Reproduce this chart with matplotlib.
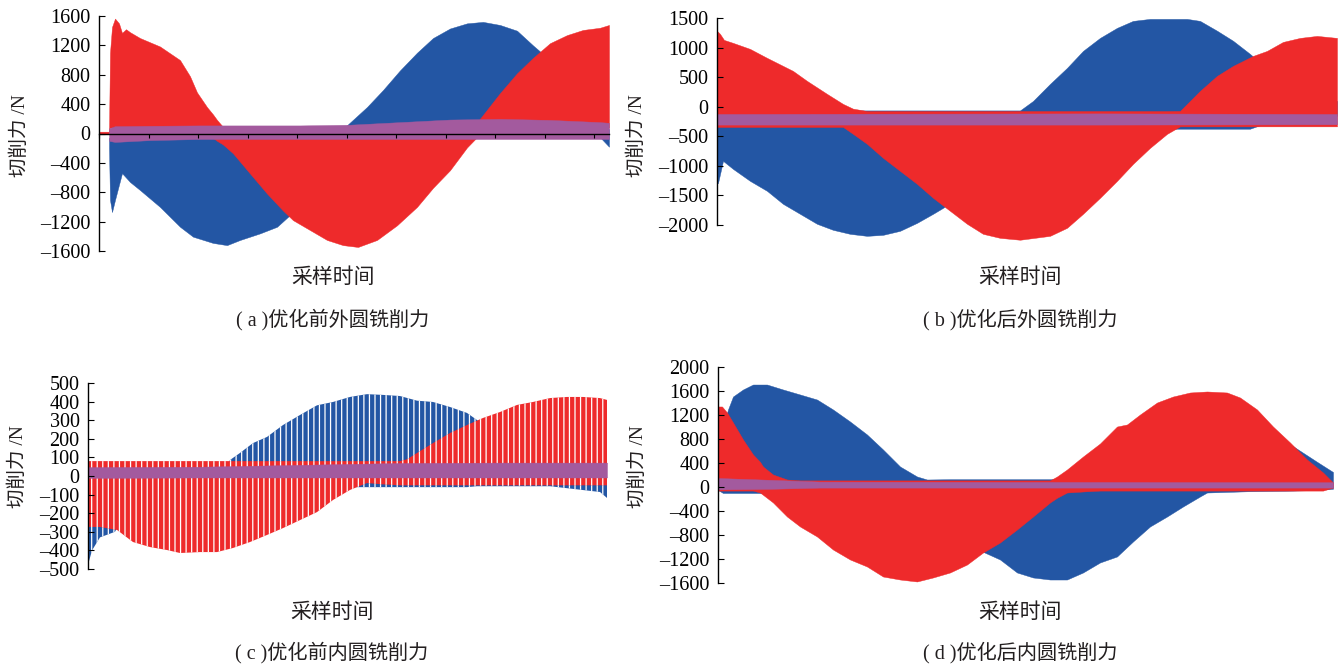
import numpy as np
import matplotlib
matplotlib.use("Agg")
import matplotlib.pyplot as plt
from matplotlib.ticker import FuncFormatter

# ---------------- data (sampling-time index, force in N) ----------------
# Panel (a) 优化前外圆铣削力
a_blue_x = [10, 11, 13, 16, 23, 31, 41, 61, 81, 94, 114, 128, 141, 161, 178, 191, 211, 231,
            247, 268, 284, 301, 318, 334, 351, 368, 384, 401, 418, 434, 451, 468, 484, 501, 510]
a_blue_top = [-60] * 18 + [100, 361, 592, 860, 1100, 1300, 1430, 1500, 1520, 1478,
                           1400, 1200, 1000, 700, 400, 100, 60]
a_blue_bot = [-200, -905, -1070, -905, -540, -660, -770, -1000, -1270, -1405, -1490, -1520,
              -1450, -1360, -1270, -1110, -850, -450, 60] + [60] * 14 + [-50, -180]
a_red_x = [0, 10, 11, 13, 16, 20, 23, 27, 31, 41, 61, 81, 91, 98, 108, 114, 118, 124, 134, 151,
           168, 184, 194, 211, 228, 244, 259, 278, 298, 318, 334, 351, 368, 378, 401, 418, 434,
           451, 468, 484, 501, 510]
a_red_top = [25, 25, 1100, 1450, 1565, 1500, 1370, 1420, 1380, 1300, 1185, 1000, 780, 560, 360,
             260, 185, 90] + [-60] * 15 + [150, 550, 820, 1030, 1230, 1340, 1410, 1440, 1478]
a_red_bot = [0, 0] + [80] * 13 + [-60, -100, -150, -270, -545, -818, -1050, -1180, -1315, -1450,
                                  -1520, -1545, -1450, -1250, -1000, -740, -500, -190, -50] + [80] * 8
a_pur_x = [10, 16, 51, 101, 151, 201, 251, 301, 351, 401, 451, 501, 510]
a_pur_top = [70, 100, 105, 110, 110, 110, 120, 155, 190, 200, 185, 155, 145]
a_pur_bot = [-100, -115, -90, -75, -75, -75, -75, -75, -75, -75, -75, -75, -75]

# Panel (b) 优化后外圆铣削力
b_blue_x = [0, 1, 6, 16, 33, 50, 66, 83, 100, 116, 133, 150, 166, 183, 200, 216, 226, 243, 273,
            303, 316, 333, 350, 366, 383, 400, 416, 433, 470, 483, 500, 516, 533, 553, 583, 620]
b_blue_top = [-60] * 20 + [100, 389, 660, 948, 1168, 1338, 1456, 1490, 1490, 1456, 1290, 1120,
                           897, 600, 300, 100]
b_blue_bot = [-1300, -1290, -914, -1050, -1253, -1422, -1642, -1811, -1980, -2082, -2150, -2184,
              -2167, -2099, -1964, -1811, -1710, -1500, -1000, -700, -550, -400] + [-370] * 11 + \
             [-250, -150, -150]
b_red_x = [0, 3, 7, 16, 33, 50, 66, 76, 90, 110, 126, 136, 150, 166, 183, 200, 216, 233, 250, 266,
           283, 303, 333, 350, 366, 383, 400, 416, 433, 450, 463, 483, 500, 516, 536, 550, 566, 583,
           600, 620]
b_red_top = [1287, 1236, 1134, 1084, 982, 830, 694, 609, 440, 220, 50, -30] + [-70] * 18 + \
            [-68, 271, 525, 694, 863, 948, 1100, 1168, 1202, 1168]
b_red_bot = [-340] * 11 + [-457, -626, -863, -1084, -1304, -1540, -1760, -1980, -2150, -2218, -2250,
                           -2184, -2048, -1811, -1540, -1253, -965, -694, -457, -330] + [-330] * 9
b_pur_x = [0, 183, 383, 620]
b_pur_top = [-120, -115, -110, -120]
b_pur_bot = [-300, -300, -300, -295]

# Panel (c) 优化前内圆铣削力
c_blue_x = [0, 4, 12, 22, 27, 32, 62, 112, 140, 142, 152, 165, 179, 195, 212, 229, 245, 262, 279,
            295, 312, 329, 345, 362, 379, 389, 412, 462, 512, 519]
c_blue_top = [75, 75, 70, 70, 65, 65, 65, 65, 65, 86, 124, 177, 210, 274, 328, 380, 398, 425, 440,
              436, 430, 405, 398, 371, 339, 301, 200, 60, 60, 60]
c_blue_bot = [-478, -400, -330, -310, -300, -250, -200, -100, -60] + [-60] * 16 + \
             [-55, -55, -55, -86, -118]
c_red_x = [0, 12, 29, 45, 62, 79, 92, 112, 129, 145, 162, 179, 195, 212, 229, 245, 262, 279, 295,
           312, 319, 345, 362, 379, 395, 412, 429, 445, 462, 479, 495, 512, 519]
c_red_top = [80] * 19 + [80, 90, 177, 231, 274, 312, 344, 382, 398, 419, 425, 425, 419, 409]
c_red_bot = [-274, -274, -290, -355, -382, -398, -414, -409, -409, -387, -355, -317, -280, -237,
             -194, -129, -75, -38, -45] + [-50] * 14
c_pur_x = [0, 112, 212, 312, 412, 519]
c_pur_top = [48, 50, 60, 70, 72, 72]
c_pur_bot = [-10, -8, -8, -8, -8, -8]

# Panel (d) 优化后内圆铣削力
d_blue_x = [0, 5, 10, 15, 25, 35, 49, 65, 82, 99, 115, 132, 149, 165, 182, 199, 209, 232, 265,
            282, 299, 315, 332, 349, 365, 382, 399, 415, 432, 449, 465, 482, 489, 532, 575, 599, 615]
d_blue_top = [0, 1000, 1292, 1508, 1625, 1708, 1708, 1625, 1542, 1458, 1292, 1092, 875, 625, 342,
              175, 125, 130, 130, 130, 130, 130, 130, 140, 250, 300, 500, 700, 800, 900, 1000, 1100,
              1100, 1000, 680, 420, 250]
d_blue_bot = [-50, -100, -100, -100, -100, -100, -100, -150, -200, -300, -400, -500, -600, -700,
              -800, -880, -920, -1000, -1080, -1208, -1425, -1508, -1542, -1542, -1425, -1258,
              -1158, -908, -658, -492, -325, -158, -92, -70, -60, -50, -30]
d_red_x = [0, 4, 9, 15, 25, 35, 42, 45, 55, 69, 82, 99, 115, 132, 149, 165, 182, 199, 215, 232,
           249, 265, 282, 299, 315, 332, 339, 349, 365, 382, 399, 409, 422, 439, 455, 472, 489, 509,
           522, 539, 555, 572, 589, 605, 615]
d_red_top = [1342, 1342, 1242, 1075, 792, 542, 420, 342, 208, 125] + [110] * 16 + \
            [175, 292, 508, 725, 1008, 1042, 1208, 1408, 1508, 1575, 1592, 1575, 1492, 1292, 1008,
             742, 458, 242, 75]
d_red_bot = [-60, -60, -60, -60, -60, -60, -92, -130, -258, -492, -658, -825, -1042, -1208, -1325,
             -1492, -1542, -1575, -1508, -1425, -1292, -1092, -925, -708, -492, -258, -180, -92,
             -75] + [-60] * 15 + [-10]
d_pur_x = [0, 52, 102, 300, 615]
d_pur_top = [150, 120, 90, 85, 80]
d_pur_bot = [-40, -30, -10, -10, -10]

xlabel_text = "采样时间"
ylabel_text = "切削力 /N"
captions = ["( a )优化前外圆铣削力", "( b )优化后外圆铣削力",
            "( c )优化前内圆铣削力", "( d )优化后内圆铣削力"]

# ---------------- style ----------------
BLUE = "#2356A4"
RED = "#EE2A2B"
PURPLE = "#A35A9E"
CJK = ["Liberation Serif", "Noto Sans CJK SC", "DejaVu Sans"]
plt.rcParams["hatch.linewidth"] = 0.9

W, H = 1344, 665
fig = plt.figure(figsize=(W / 100, H / 100), dpi=100)


def px_axes(left, top, right, bottom):
    return fig.add_axes([left / W, 1 - bottom / H, (right - left) / W, (bottom - top) / H])


def dash_fmt(v, pos):
    s = "%d" % v
    return s.replace("-", "\u2013")


def style(ax, xlim, ylim, yticks, spine_bounds=None):
    ax.set_xlim(*xlim)
    ax.set_ylim(*ylim)
    ax.set_yticks(yticks)
    ax.yaxis.set_major_formatter(FuncFormatter(dash_fmt))
    for s in ("top", "right"):
        ax.spines[s].set_visible(False)
    ax.spines["left"].set_linewidth(1.0)
    if spine_bounds is not None:
        ax.spines["left"].set_bounds(*spine_bounds)
    ax.tick_params(axis="y", direction="in", length=4, width=0.8, pad=6, labelsize=14.5)
    for lab in ax.get_yticklabels():
        lab.set_family("Liberation Serif")
    ax.patch.set_alpha(0)


def band(ax, x, top, bot, color, hatch=None, z=1):
    if hatch:
        ax.fill_between(x, bot, top, facecolor=color, edgecolor="white", linewidth=0,
                        hatch=hatch, zorder=z)
    else:
        ax.fill_between(x, bot, top, color=color, linewidth=0.3, zorder=z)


# (a)
ax_a = px_axes(99, 16, 609, 251)
band(ax_a, a_blue_x, a_blue_top, a_blue_bot, BLUE, z=1)
band(ax_a, a_red_x, a_red_top, a_red_bot, RED, z=1.1)
band(ax_a, a_pur_x, a_pur_top, a_pur_bot, PURPLE, z=1.2)
style(ax_a, (0, 510), (-1600, 1600), np.arange(-1600, 1601, 400))
ax_a.spines["bottom"].set_position(("data", 0))
ax_a.spines["bottom"].set_linewidth(1.0)
ax_a.spines["bottom"].set_zorder(3)
ax_a.set_xticks(np.arange(0, 500, 49.5))
ax_a.tick_params(axis="x", direction="out", length=3, width=0.8, labelbottom=False)

# (b)
ax_b = px_axes(717, 18.3, 1337, 242.7)
band(ax_b, b_blue_x, b_blue_top, b_blue_bot, BLUE, z=1)
band(ax_b, b_red_x, b_red_top, b_red_bot, RED, z=1.1)
band(ax_b, b_pur_x, b_pur_top, b_pur_bot, PURPLE, z=1.2)
style(ax_b, (0, 620), (-2300, 1500), np.arange(-2000, 1501, 500), spine_bounds=(-2000, 1500))
ax_b.spines["bottom"].set_visible(False)
ax_b.set_xticks([])

# (c)
ax_c = px_axes(88, 383, 608, 569)
band(ax_c, c_blue_x, c_blue_top, c_blue_bot, BLUE, hatch="|||", z=1)
band(ax_c, c_red_x, c_red_top, c_red_bot, RED, hatch="|||", z=1.1)
band(ax_c, c_pur_x, c_pur_top, c_pur_bot, PURPLE, z=1.2)
style(ax_c, (0, 520), (-500, 500), np.arange(-500, 501, 100))
ax_c.spines["bottom"].set_visible(False)
ax_c.set_xticks([])

# (d)
ax_d = px_axes(718, 367, 1333, 583)
band(ax_d, d_blue_x, d_blue_top, d_blue_bot, BLUE, z=1)
band(ax_d, d_red_x, d_red_top, d_red_bot, RED, z=1.1)
band(ax_d, d_pur_x, d_pur_top, d_pur_bot, PURPLE, z=1.2)
style(ax_d, (0, 615), (-1600, 2000), np.arange(-1600, 2001, 400))
ax_d.spines["bottom"].set_visible(False)
ax_d.set_xticks([])

# texts
def ftext(x, y, s, **kw):
    fig.text(x / W, 1 - y / H, s, ha="center", va="center", family=CJK, color="#231F20",
             fontweight="light", **kw)

for (yx, yy) in [(20, 136), (637, 136), (18, 467), (638, 467)]:
    ftext(yx, yy, ylabel_text, fontsize=14, rotation=90)
for (xx, xy) in [(333, 278), (1020, 278), (332, 613), (1020, 613)]:
    ftext(xx, xy, xlabel_text, fontsize=15)
for cap, (cx, cy) in zip(captions, [(333, 320), (1020, 320), (332, 653), (1020, 653)]):
    ftext(cx, cy, cap, fontsize=14.5)

fig.savefig("out.png", dpi=100, facecolor="white")
